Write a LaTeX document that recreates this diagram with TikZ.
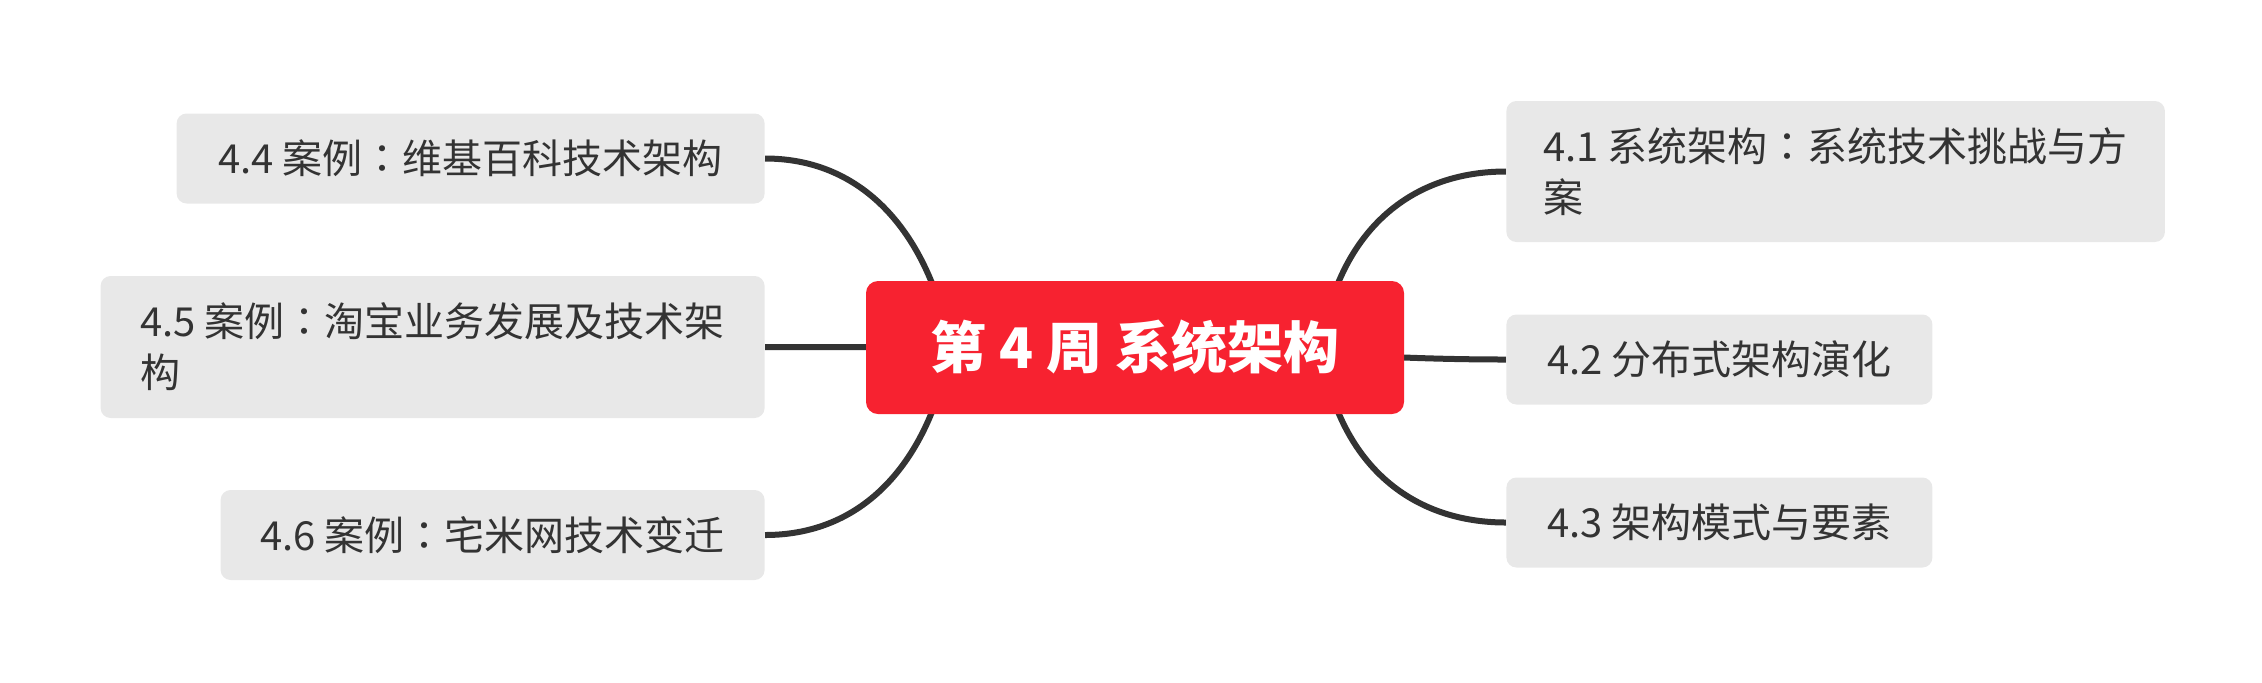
\documentclass[tikz,border=0pt]{standalone}
\usepackage{fontspec}
\newfontfamily\cjk{Noto Sans CJK SC}
\newfontfamily\cjktc{Noto Sans CJK TC}
\newcommand\fwcolon{{\cjktc ：}}
\usetikzlibrary{backgrounds}

\definecolor{rootred}{RGB}{247,34,48}
\definecolor{topicgray}{RGB}{232,232,232}
\definecolor{inkgray}{RGB}{51,51,51}

\tikzset{
  root/.style={fill=rootred, rounded corners=6pt, text=white,
    font=\cjk\bfseries\fontsize{28}{34}\selectfont,
    minimum width=269pt, minimum height=66.5pt},
  topic/.style={fill=topicgray, rounded corners=5pt, text=inkgray,
    font=\cjk\fontsize{20}{25.5}\selectfont, align=left,
    inner xsep=18.5pt, inner ysep=0pt, minimum height=45pt},
  branch/.style={draw=inkgray, line width=3pt},
}

\begin{document}
\begin{tikzpicture}[x=0.5pt,y=-0.5pt]
\useasboundingbox (0,0) rectangle (2262,682);

\node[root] (root) at (1135,347.5) {第 4 周 系统架构};

% right side
\node[topic,anchor=west,minimum height=70.5pt] (n41) at (1506,171.5)
    {4.1 系统架构\fwcolon 系统技术挑战与方\\案};
\node[topic,anchor=west,minimum width=213pt] (n42) at (1506,359.5) {4.2 分布式架构演化};
\node[topic,anchor=west,minimum width=213pt] (n43) at (1506,522.5) {4.3 架构模式与要素};

% left side
\node[topic,anchor=east,minimum width=294pt] (n44) at (765,158.5) {4.4 案例\fwcolon 维基百科技术架构};
\node[topic,anchor=east,minimum width=332pt,minimum height=71pt] (n45) at (765,347)
    {4.5 案例\fwcolon 淘宝业务发展及技术架\\构};
\node[topic,anchor=east,minimum width=272pt] (n46) at (765,535) {4.6 案例\fwcolon 宅米网技术变迁};

\begin{scope}[on background layer]
\draw[branch] ([xshift=-35pt,yshift=-6pt]root.north east) to[out=70,in=180]  (n41.west);
\draw[branch] (root.center)                               to[out=0,in=180]   (n42.west);
\draw[branch] ([xshift=-35pt,yshift=6pt]root.south east)  to[out=-70,in=180] (n43.west);
\draw[branch] ([xshift=35pt,yshift=-6pt]root.north west)  to[out=110,in=0]   (n44.east);
\draw[branch] (root.center) -- (n45.east);
\draw[branch] ([xshift=35pt,yshift=6pt]root.south west)   to[out=-110,in=0]  (n46.east);
\end{scope}
\end{tikzpicture}
\end{document}
